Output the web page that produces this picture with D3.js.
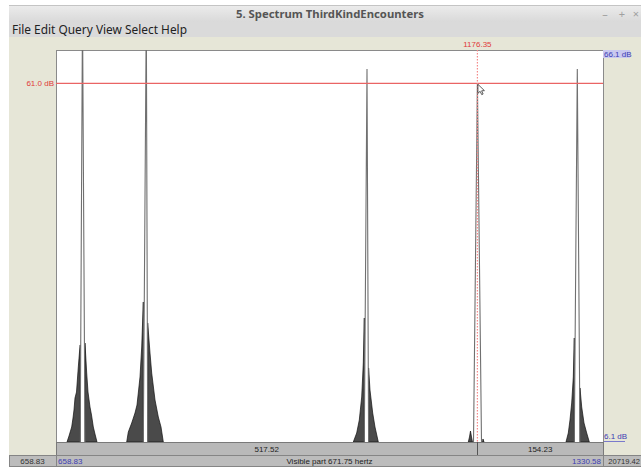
<!DOCTYPE html>
<html>
<head>
<meta charset="utf-8">
<script src="https://cdn.jsdelivr.net/npm/d3@7"></script>
<style>
html,body{margin:0;padding:0;background:#fff;}
svg{display:block;}
</style>
</head>
<body>
<svg id="c" width="641" height="467"></svg>
<script>
// ---------- data ----------
const windowTitle = "5. Spectrum ThirdKindEncounters";
const menuItems = ["File", "Edit", "Query", "View", "Select", "Help"];
const freqRange = [658.83, 1330.58];   // visible part (Hz)
const dbRange = [6.1, 66.1];           // vertical range (dB)
const nyquist = 22050;
const cursorFreq = 1176.35;
const cursorDb = 61.0;

// spectral peaks: apex and the foot of the narrow main lobe
const peakApexHz   = [691.37, 769.72, 1040.76, 1176.35, 1299.02];
const peakApexDb   = [72.0,   72.0,   63.19,   61.0,    63.19];
const peakFootLoHz = [688.55, 766.04, 1037.44, 1171.55, 1295.33];
const peakFootHiHz = [694.44, 771.44, 1042.72, 1181.37, 1302.33];

// side-lobe skirts (envelopes, [Hz, dB])
const skirtsLow = [
  [[672.34,6.1],[674.80,7.02],[678.11,8.40],[679.71,9.77],[680.93,11.0],[682.16,12.83],[684.01,13.75],[686.22,17.58],[687.69,19.88],[688.55,20.95],[688.55,6.1]],
  [[745.65,6.1],[747.62,7.63],[751.80,9.01],[755.85,10.54],[758.30,11.76],[759.90,13.60],[761.99,16.05],[764.08,20.64],[766.04,27.53],[766.04,6.1]],
  [[1023.93,6.1],[1028.11,7.48],[1031.30,9.47],[1034.25,12.99],[1036.21,18.19],[1037.44,25.08],[1037.44,6.1]],
  [[1165.16,6.1],[1166.63,6.87],[1167.86,7.78],[1169.09,6.87],[1170.32,6.1]],
  [[1285.14,6.1],[1287.97,7.48],[1290.05,9.47],[1292.14,12.07],[1294.11,16.05],[1295.33,22.02],[1295.33,6.1]]
];
const skirtsHigh = [
  [[694.44,6.1],[694.44,21.25],[696.53,16.66],[698.13,13.75],[700.58,11.46],[702.43,10.23],[704.64,8.40],[706.72,7.32],[709.18,6.1]],
  [[771.44,6.1],[771.44,24.31],[774.27,19.72],[776.35,16.66],[780.41,12.53],[784.46,9.93],[787.78,8.40],[790.60,6.1]],
  [[1042.72,6.1],[1042.72,17.43],[1044.44,14.06],[1047.76,10.54],[1050.58,8.40],[1054.64,6.1]],
  [[1182.60,6.1],[1183.21,6.56],[1184.44,6.1]],
  [[1302.33,6.1],[1302.33,14.37],[1304.42,11.46],[1307.25,9.01],[1310.56,7.48],[1313.76,6.1]]
];

// ---------- layout ----------
const W = 641, H = 467;
const win = {x: 9, y: 5};
const plot = {x0: 56, x1: 603, y0: 50, y1: 442};
const svg = d3.select("#c");

const x = d3.scaleLinear().domain(freqRange).range([plot.x0, plot.x1]);
const y = d3.scaleLinear().domain(dbRange).range([plot.y1, plot.y0]);
const fmt = d3.format(".2f");

// window chrome
const defs = svg.append("defs");
const tg = defs.append("linearGradient").attr("id","tg").attr("x1",0).attr("y1",0).attr("x2",0).attr("y2",1);
tg.append("stop").attr("offset","0%").attr("stop-color","#ececec");
tg.append("stop").attr("offset","100%").attr("stop-color","#d9d9d9");
svg.append("rect").attr("x",win.x).attr("y",win.y).attr("width",W-win.x).attr("height",17).attr("fill","url(#tg)");
svg.append("line").attr("x1",win.x).attr("x2",W).attr("y1",win.y+0.5).attr("y2",win.y+0.5).attr("stroke","#c4c4c4");
svg.append("rect").attr("x",win.x).attr("y",22).attr("width",W-win.x).attr("height",15).attr("fill","#dadada");
svg.append("text").attr("x",330).attr("y",18).attr("text-anchor","middle")
  .attr("font-family","'Noto Sans', sans-serif").attr("font-weight","bold").attr("font-size",11.3)
  .attr("fill","#555").text(windowTitle);
[["\u2013",605],["+",622],["\u00d7",636]].forEach(([t,px])=>{
  svg.append("text").attr("x",px).attr("y",18).attr("text-anchor","middle")
    .attr("font-family","'Noto Sans', sans-serif").attr("font-size",11).attr("fill","#a0a0a0").text(t);
});
svg.append("text").attr("x",12).attr("y",34)
  .attr("font-family","'Noto Sans', sans-serif").attr("font-size",11.9).attr("fill","#222")
  .text(menuItems.join(" "));

// beige client area
svg.append("rect").attr("x",win.x).attr("y",37).attr("width",W-win.x).attr("height",429).attr("fill","#e6e6d7");

// plot background
svg.append("rect").attr("x",plot.x0).attr("y",plot.y0).attr("width",plot.x1-plot.x0).attr("height",plot.y1-plot.y0)
  .attr("fill","#fff").attr("stroke","#8a8a8a").attr("stroke-width",1)
  .attr("shape-rendering","crispEdges");

defs.append("clipPath").attr("id","clip").append("rect")
  .attr("x",plot.x0).attr("y",plot.y0).attr("width",plot.x1-plot.x0).attr("height",plot.y1-plot.y0);
const g = svg.append("g").attr("clip-path","url(#clip)");

const line = d3.line().x(d=>x(d[0])).y(d=>y(d[1]));

// skirts
skirtsLow.concat(skirtsHigh).forEach(s=>{
  g.append("path").attr("d", line(s) + "Z")
    .attr("fill","#4a4a4a").attr("stroke","#111").attr("stroke-width",0.7).attr("stroke-linejoin","round");
});
// main lobes
peakApexHz.forEach((f,i)=>{
  const pts = [[peakFootLoHz[i], dbRange[0]],[f, peakApexDb[i]],[peakFootHiHz[i], dbRange[0]]];
  g.append("path").attr("d", line(pts)).attr("fill","none").attr("stroke","#707070").attr("stroke-width",1.1);
});

// cursor lines
const cx = x(cursorFreq), cy = y(cursorDb);
svg.append("line").attr("x1",plot.x0).attr("x2",plot.x1).attr("y1",cy).attr("y2",cy)
  .attr("stroke","#ea6464").attr("stroke-width",1.15);
svg.append("line").attr("x1",cx).attr("x2",cx).attr("y1",plot.y0).attr("y2",plot.y1)
  .attr("stroke","#f58a8a").attr("stroke-width",1.2).attr("stroke-dasharray","1.5,1.5");

const small = "'Liberation Sans', Arial, sans-serif";
svg.append("text").attr("x",cx).attr("y",47).attr("text-anchor","middle")
  .attr("font-family",small).attr("font-size",8).attr("fill","#e03a3a").text(fmt(cursorFreq));
svg.append("text").attr("x",54).attr("y",cy+3).attr("text-anchor","end")
  .attr("font-family",small).attr("font-size",8).attr("fill","#e03a3a").text(cursorDb.toFixed(1)+" dB");

// right-side range labels
svg.append("rect").attr("x",603).attr("y",50).attr("width",27).attr("height",8).attr("fill","#c9c9ef");
svg.append("text").attr("x",604).attr("y",57).attr("font-family",small).attr("font-size",8).attr("fill","#3c3cb4")
  .text(dbRange[1].toFixed(1)+" dB");
svg.append("text").attr("x",604).attr("y",439).attr("font-family",small).attr("font-size",8).attr("fill","#3c3cb4")
  .text(dbRange[0].toFixed(1)+" dB");
svg.append("line").attr("x1",604).attr("x2",625).attr("y1",441.5).attr("y2",441.5).attr("stroke","#7a7acc").attr("stroke-width",1);

// bottom bars
const barFont = {f: small, s: 8};
svg.append("rect").attr("x",plot.x0).attr("y",442).attr("width",plot.x1-plot.x0).attr("height",13)
  .attr("fill","#b9b9b9").attr("stroke","#7a7a7a").attr("stroke-width",1).attr("shape-rendering","crispEdges");
svg.append("line").attr("x1",Math.round(cx)+0.5).attr("x2",Math.round(cx)+0.5).attr("y1",442).attr("y2",455)
  .attr("stroke","#555");
svg.append("text").attr("x",(plot.x0+cx)/2).attr("y",452).attr("text-anchor","middle")
  .attr("font-family",barFont.f).attr("font-size",barFont.s).attr("fill","#222").text(fmt(cursorFreq-freqRange[0]));
svg.append("text").attr("x",(cx+plot.x1)/2).attr("y",452).attr("text-anchor","middle")
  .attr("font-family",barFont.f).attr("font-size",barFont.s).attr("fill","#222").text(fmt(freqRange[1]-cursorFreq));

const row2 = [[win.x, plot.x0],[plot.x0, plot.x1],[plot.x1, W]];
row2.forEach(([a,b])=>{
  svg.append("rect").attr("x",a).attr("y",455).attr("width",b-a).attr("height",11)
    .attr("fill","#bcbcbc").attr("stroke","#858585").attr("stroke-width",1).attr("shape-rendering","crispEdges");
});
svg.append("text").attr("x",(win.x+plot.x0)/2).attr("y",464).attr("text-anchor","middle")
  .attr("font-family",barFont.f).attr("font-size",barFont.s).attr("fill","#333").text(fmt(freqRange[0]));
svg.append("text").attr("x",plot.x0+2).attr("y",464)
  .attr("font-family",barFont.f).attr("font-size",barFont.s).attr("fill","#3c3cb4").text(fmt(freqRange[0]));
svg.append("text").attr("x",(plot.x0+plot.x1)/2).attr("y",464).attr("text-anchor","middle")
  .attr("font-family",barFont.f).attr("font-size",barFont.s).attr("fill","#222")
  .text("Visible part " + fmt(freqRange[1]-freqRange[0]) + " hertz");
svg.append("text").attr("x",plot.x1-2).attr("y",464).attr("text-anchor","end")
  .attr("font-family",barFont.f).attr("font-size",barFont.s).attr("fill","#3c3cb4").text(fmt(freqRange[1]));
svg.append("text").attr("x",W-1).attr("y",464).attr("text-anchor","end")
  .attr("font-family",barFont.f).attr("font-size",7.6).attr("fill","#333").text(fmt(nyquist-freqRange[1]));

// mouse pointer at cursor
svg.append("path").attr("transform",`translate(${cx+0.5},${cy+1})`)
  .attr("d","M0,0 L0,9 L2.2,7 L3.8,10.3 L5.2,9.7 L3.7,6.5 L6.5,6.3 Z")
  .attr("fill","#fff").attr("stroke","#333").attr("stroke-width",0.8);
</script>
</body>
</html>
